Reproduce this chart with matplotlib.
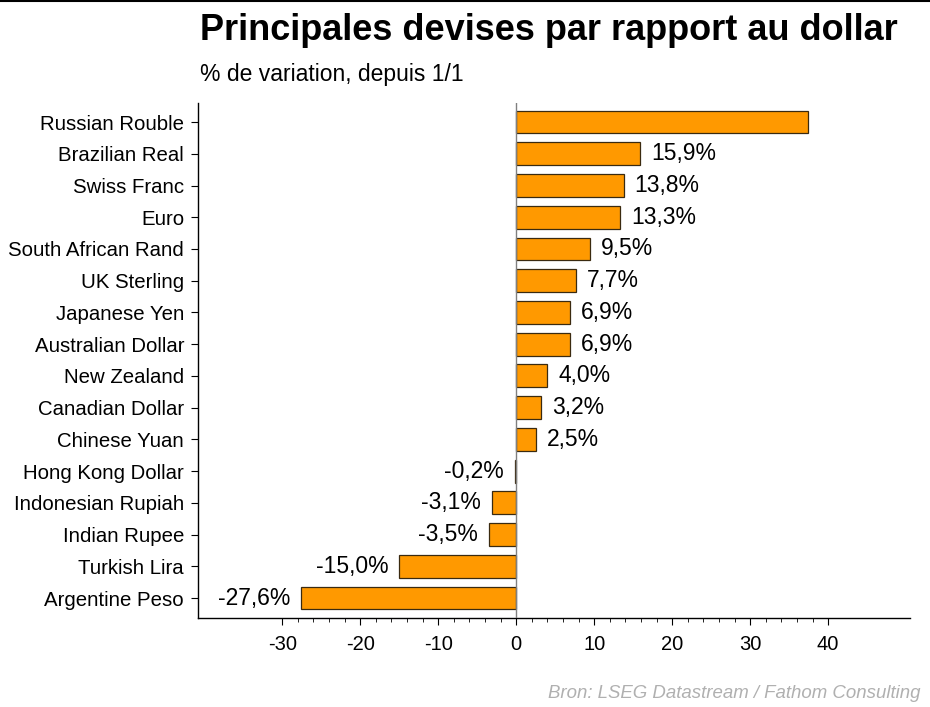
import matplotlib.pyplot as plt
from matplotlib.lines import Line2D
from matplotlib.ticker import FixedLocator

plt.rcParams['font.family'] = ['Liberation Sans', 'DejaVu Sans']
plt.rcParams['axes.unicode_minus'] = False

# data, top to bottom
currencies = ['Russian Rouble', 'Brazilian Real', 'Swiss Franc', 'Euro',
              'South African Rand', 'UK Sterling', 'Japanese Yen',
              'Australian Dollar', 'New Zealand', 'Canadian Dollar',
              'Chinese Yuan', 'Hong Kong Dollar', 'Indonesian Rupiah',
              'Indian Rupee', 'Turkish Lira', 'Argentine Peso']
changes = [37.4, 15.9, 13.8, 13.3, 9.5, 7.7, 6.9, 6.9, 4.0, 3.2, 2.5,
           -0.2, -3.1, -3.5, -15.0, -27.6]
show_label = [False] + [True] * 15

fig = plt.figure(figsize=(9.3, 7.07), dpi=100)
ax = fig.add_axes([198/930, 1 - 618/707, (910-198)/930, (618-103)/707])

ypos = list(range(len(currencies)))[::-1]
ax.barh(ypos, changes, height=0.72, color='#ff9900', edgecolor='#3a2a10',
        linewidth=0.9, zorder=2)
ax.axvline(0, color='#808080', lw=1.0, zorder=3)

for y, v, s in zip(ypos, changes, show_label):
    if not s:
        continue
    txt = f'{v:.1f}%'.replace('.', ',')
    if v >= 0:
        ax.text(v + 1.4, y, txt, va='center', ha='left', fontsize=16.5)
    else:
        ax.text(v - 1.4, y, txt, va='center', ha='right', fontsize=16.5)

ax.set_yticks(ypos)
ax.set_yticklabels(currencies, fontsize=14.7)
ax.set_ylim(-0.63, 15.6)
ax.set_xlim(-40.8, 50.5)
ax.set_xticks([-30, -20, -10, 0, 10, 20, 30, 40])
ax.xaxis.set_minor_locator(FixedLocator([v for v in range(-30, 41, 2) if v % 10]))
ax.tick_params(axis='x', which='major', labelsize=14.5, length=5, pad=7)
ax.tick_params(axis='x', which='minor', length=3)
ax.tick_params(axis='y', length=5, pad=5)
for sp in ['top', 'right']:
    ax.spines[sp].set_visible(False)
ax.spines['left'].set_linewidth(1.0)
ax.spines['bottom'].set_linewidth(1.0)

fig.text(200/930, 1 - 31/707, 'Principales devises par rapport au dollar',
         fontsize=26, fontweight='bold', va='center', ha='left')
fig.text(200/930, 1 - 74/707, '% de variation, depuis 1/1',
         fontsize=16.5, va='center', ha='left')
fig.text(920/930, 1 - 693/707, 'Bron: LSEG Datastream / Fathom Consulting',
         fontsize=13.4, style='italic', color='#b0b0b0', va='center', ha='right')
fig.add_artist(Line2D([0, 1], [0.999, 0.999], color='black', lw=1.5,
                      transform=fig.transFigure))

fig.savefig('out.png', dpi=100)
